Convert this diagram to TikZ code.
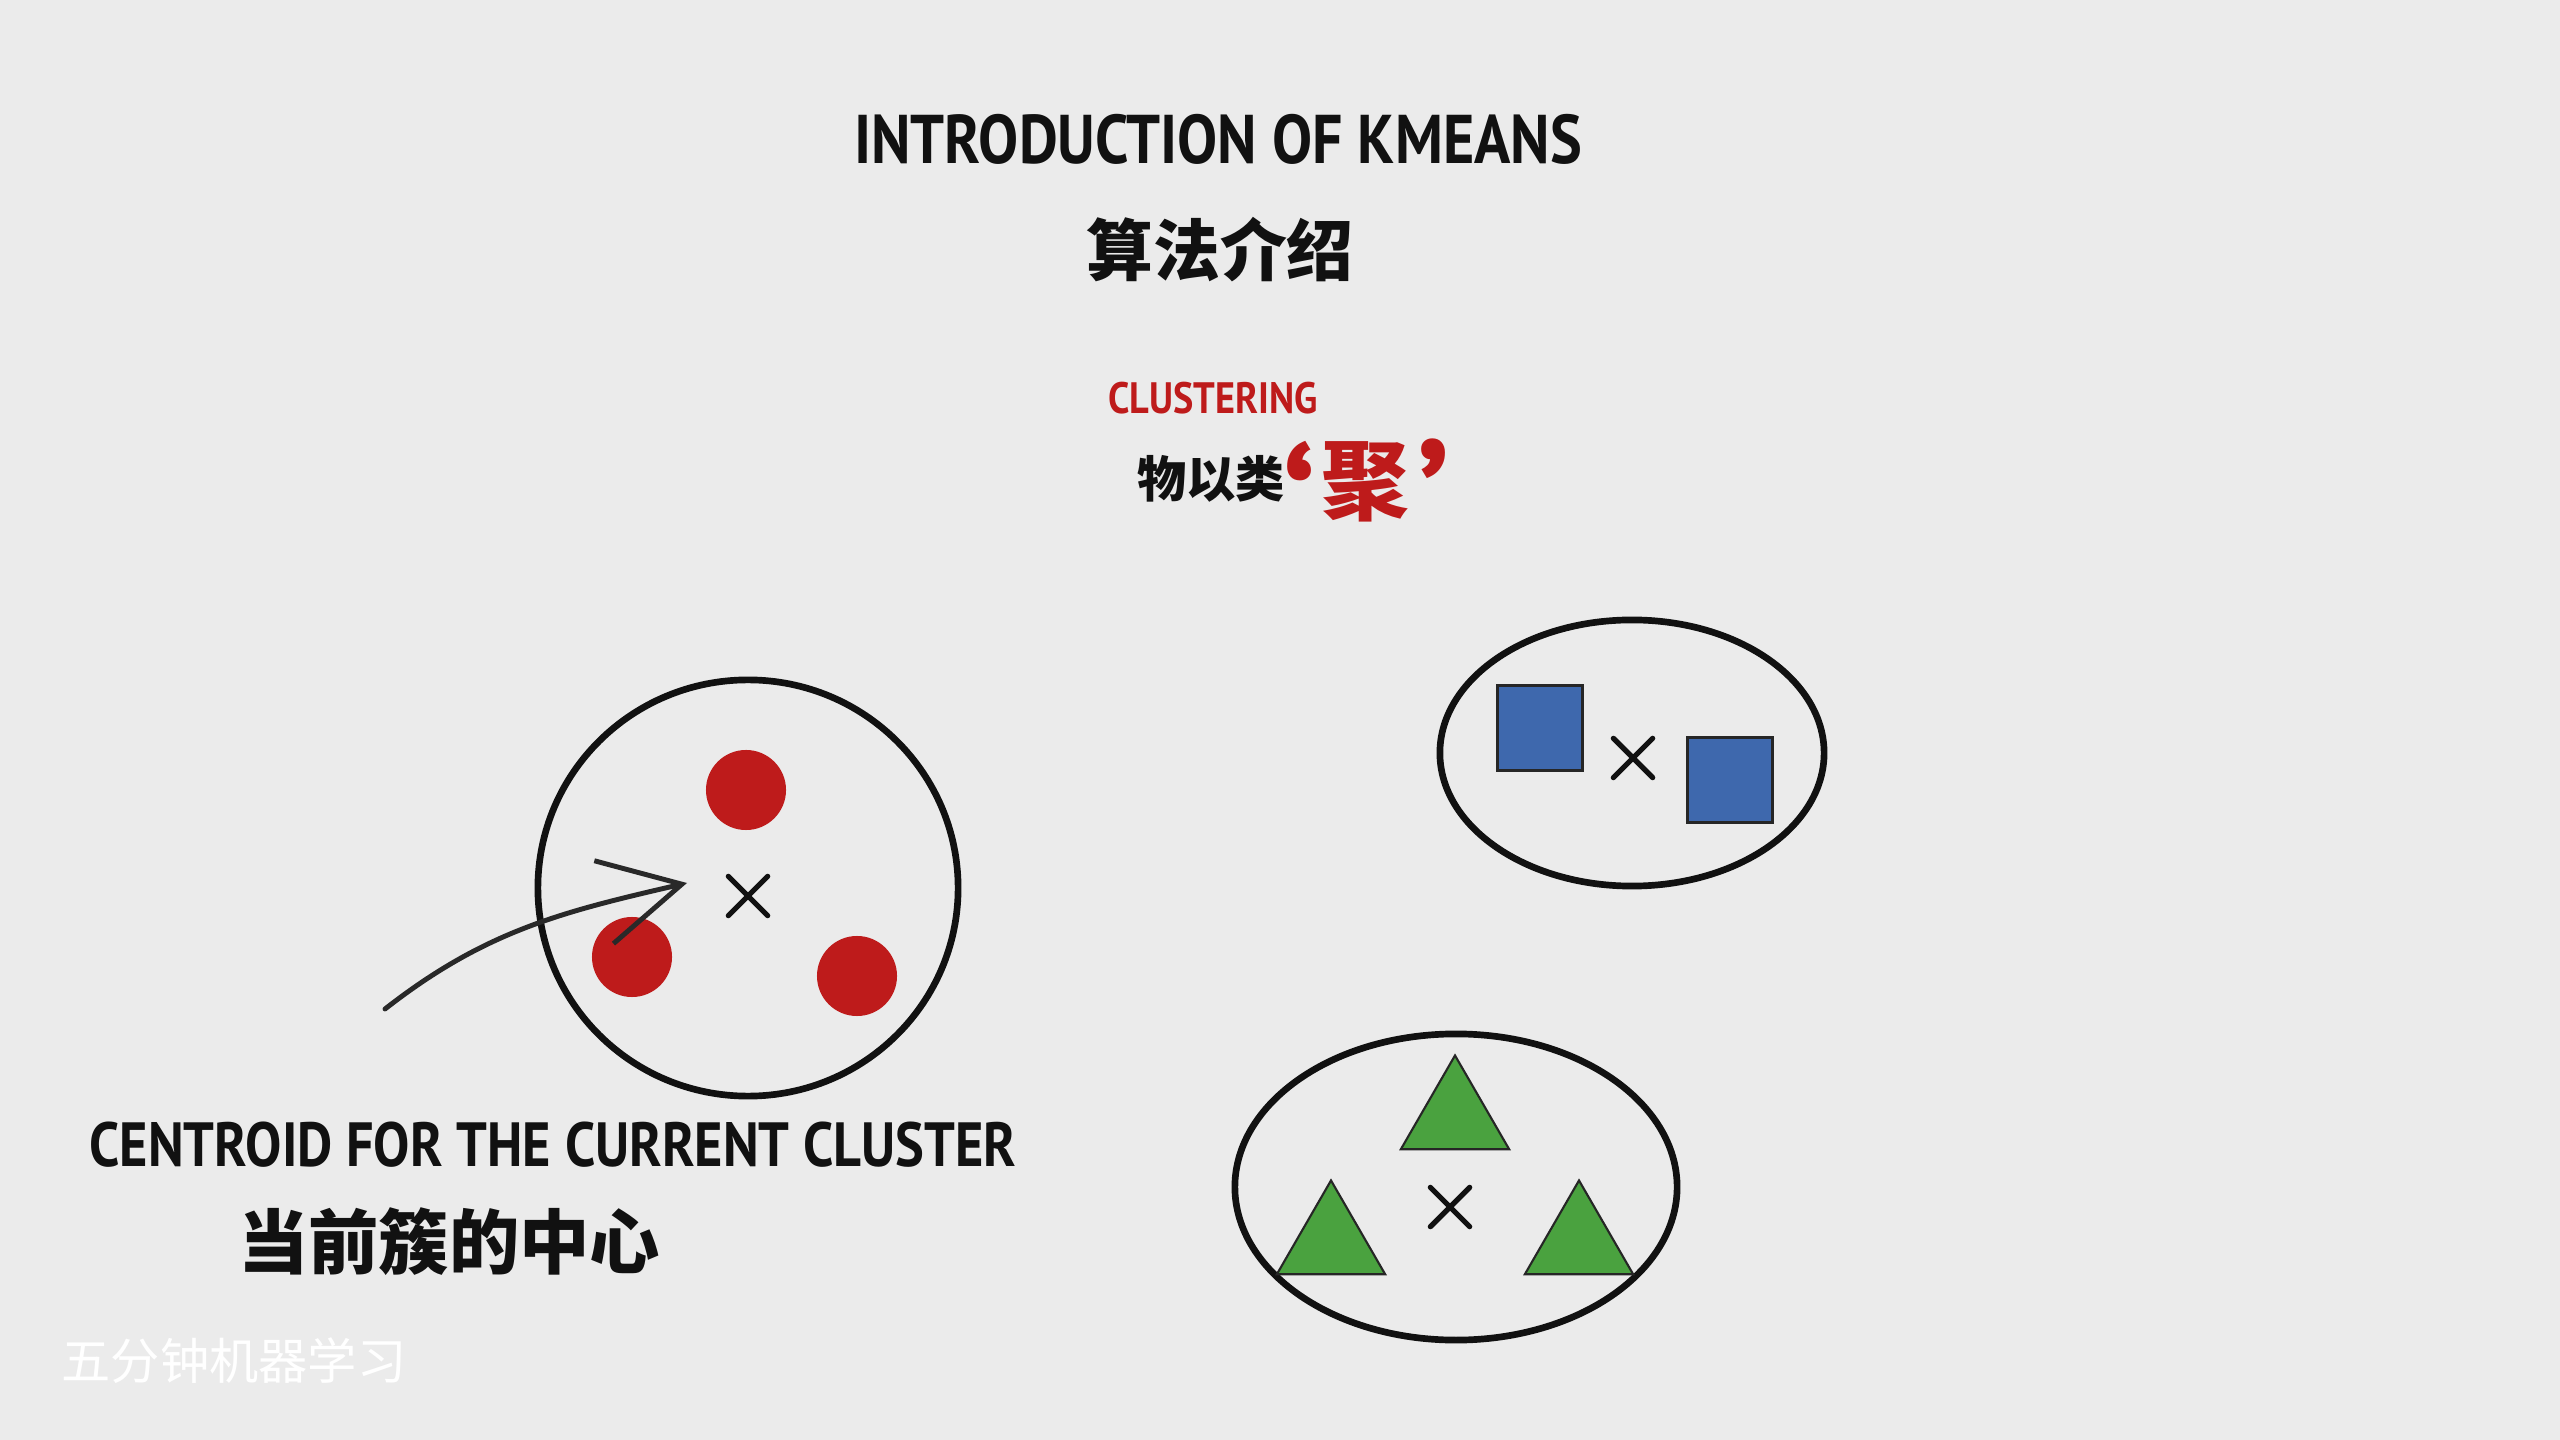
\documentclass[tikz,border=0pt]{standalone}
\usepackage{fontspec}
\usepackage{xcolor}
\usetikzlibrary{arrows.meta,positioning,calc,shapes.geometric,shapes.misc}
\setmainfont{PT Sans}
\newfontfamily\handfont{PT Sans}[FakeStretch=0.87]
\newfontfamily\cjk{Noto Sans CJK SC}
\definecolor{paper}{HTML}{EBEBEB}
\definecolor{ink}{HTML}{111111}
\definecolor{dotred}{HTML}{BE1B1B}
\definecolor{sqblue}{HTML}{3E68AD}
\definecolor{trigreen}{HTML}{4AA23F}
\tikzset{
  >=Latex,
  cluster/.style  = {ellipse, draw=ink, line width=1.9pt, inner sep=0pt},
  reddot/.style   = {circle, fill=dotred, inner sep=0pt, minimum size=0.8cm},
  bluesq/.style   = {rectangle, draw=black!85, fill=sqblue, line width=0.6pt, inner sep=0pt, minimum size=0.85cm},
  greentri/.style = {regular polygon, regular polygon sides=3, draw=black!85, fill=trigreen, line width=0.6pt, inner sep=0pt, minimum size=1.25cm},
  centre/.style   = {cross out, draw=ink, line width=1.5pt, line cap=round, inner sep=0pt, minimum size=0.34cm},
  entitle/.style  = {font=\handfont\bfseries, text=ink, inner sep=0pt},
  zhtitle/.style  = {font=\cjk\bfseries, text=ink, inner sep=0pt},
  quotemark/.style = {font=\bfseries\fontsize{46}{48}\selectfont, text=dotred, inner sep=0pt, anchor=north},
  pointer/.style  = {-{Straight Barb[length=0.8cm, width=0.85cm]}, line width=1.4pt, line cap=round, draw=ink!90}
}

\begin{document}
\begin{tikzpicture}[x=0.01cm, y=-0.01cm]
\useasboundingbox (0,0) rectangle (2560,1440);
\fill[paper] (0,0) rectangle (2560,1440);

% titles
\node[entitle, font=\handfont\bfseries\fontsize{19.6}{24}\selectfont] (title) at (1218,139) {INTRODUCTION OF KMEANS};
\node[zhtitle, font=\cjk\bfseries\fontsize{19}{22}\selectfont] (titlezh) at (1220,250) {算法介绍};
\node[entitle, text=dotred, font=\handfont\bfseries\fontsize{12.5}{14}\selectfont] (clus) at (1213,398) {CLUSTERING};
\node[zhtitle, font=\cjk\bfseries\fontsize{14}{16}\selectfont] (wuyi) at (1211,479) {物以类};
\node[zhtitle, text=dotred, font=\cjk\bfseries\fontsize{25}{28}\selectfont] (ju) at (1365,482) {聚};
\node[quotemark] (lq) at (1300,441) {‘};
\node[quotemark] (rq) at (1434,438) {’};

% red cluster
\node[cluster, minimum width=4.2cm, minimum height=4.16cm] (c1) at (748,888) {};
\node[reddot] (r1) at (746,790) {};
\node[reddot] (r2) at (632,957) {};
\node[reddot] (r3) at (857,976) {};
\node[centre] (cx1) at (748,896) {};

% blue cluster
\node[cluster, minimum width=3.84cm, minimum height=2.66cm] (c2) at (1632,753) {};
\node[bluesq] (b1) at (1540,728) {};
\node[bluesq] (b2) at (1730,780) {};
\node[centre] (cx2) at (1633,758) {};

% green cluster
\node[cluster, minimum width=4.42cm, minimum height=3.06cm] (c3) at (1456,1187) {};
\node[greentri] (g1) at (1455,1118) {};
\node[greentri] (g2) at (1331,1243) {};
\node[greentri] (g3) at (1579,1243) {};
\node[centre] (cx3) at (1450,1207) {};

% pointer to the centroid
\coordinate (tail) at (385,1009);
\draw[pointer] (tail) to[out=38, in=193] ($(cx1)+(-61,-13)$);

\node[entitle, font=\handfont\bfseries\fontsize{17.75}{20}\selectfont] (cent) at (553,1145) {CENTROID FOR THE CURRENT CLUSTER};
\node[zhtitle, font=\cjk\bfseries\fontsize{20}{24}\selectfont] (centzh) at (449,1242) {当前簇的中心};

% watermark
\node[text=white, font=\cjk\fontsize{14}{16}\selectfont, inner sep=0pt] (mark) at (234,1361) {五分钟机器学习};
\end{tikzpicture}
\end{document}
